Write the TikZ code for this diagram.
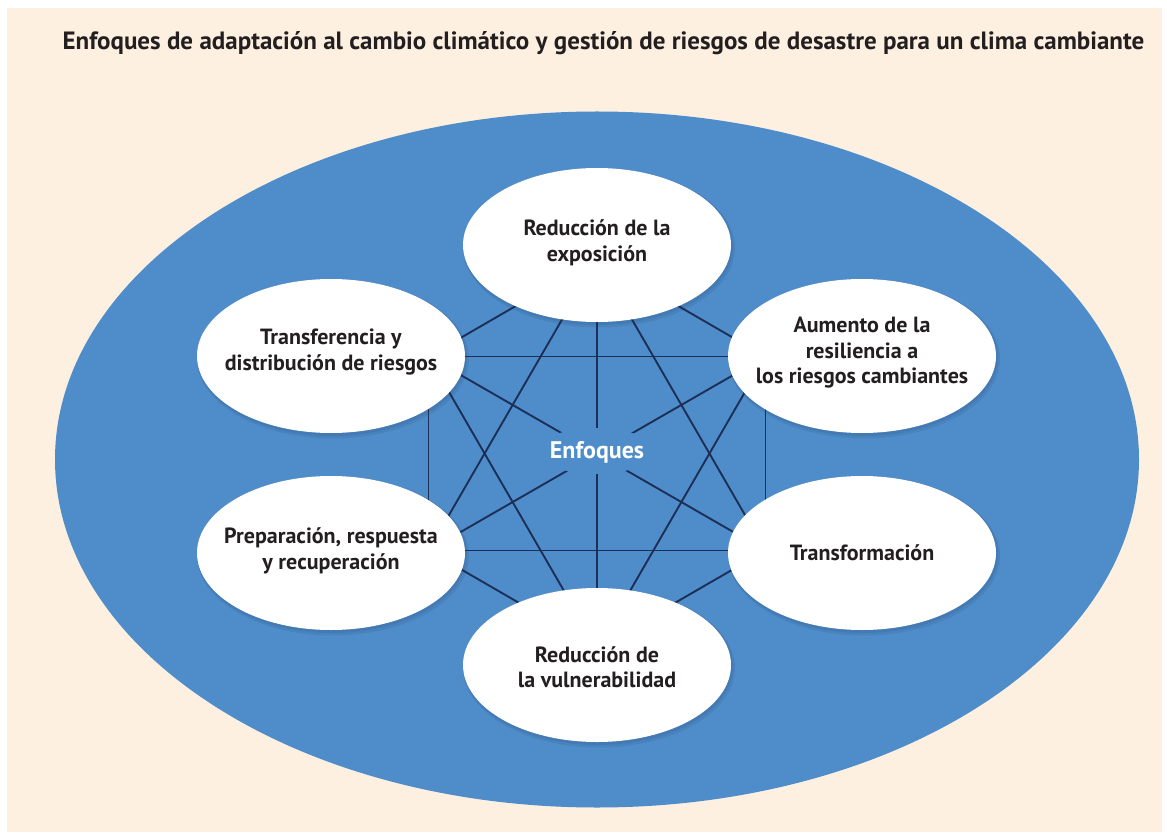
\documentclass[tikz,border=0pt]{standalone}
\usepackage{fontspec}
\setmainfont{PT Sans}
\usetikzlibrary{shapes.geometric}
\definecolor{bg}{HTML}{FDF0E0}
\definecolor{blu}{HTML}{4F8DCA}
\definecolor{navy}{HTML}{1C2F57}
\definecolor{ink}{HTML}{231F20}
\begin{document}
\begin{tikzpicture}[x=1pt,y=-1pt,
  oval/.style={ellipse, fill=white, minimum width=268pt, minimum height=154pt, inner sep=0pt, outer sep=0pt},
  ovalshade/.style={ellipse, fill=navy, opacity=0.10, minimum width=272pt, minimum height=159pt, inner sep=0pt},
  ovaltext/.style={align=center, text=ink, inner sep=0pt, font=\fontsize{22}{25.5}\selectfont\bfseries},
  link/.style={draw=navy, line width=1.9pt},
  hub/.style={ellipse, fill=blu, minimum width=116pt, minimum height=46pt, inner sep=0pt},
  hubtext/.style={text=white, inner sep=0pt, font=\fontsize{24}{28}\selectfont\bfseries},
  titletext/.style={text=ink, inner sep=0pt, font=\fontsize{25}{30}\selectfont\bfseries}
]
\useasboundingbox (0,0) rectangle (1167,834);
\fill[white] (0,0) rectangle (1167,834);
\fill[bg] (7,8) rectangle (1162,832);

\node[titletext, anchor=base] (title) at (603.5,50) {Enfoques de adaptación al cambio climático y gestión de riesgos de desastre para un clima cambiante};

% outer ellipse
\fill[blu] (597,459.5) ellipse [x radius=542, y radius=348];

% hexagon vertices
\coordinate (v1) at (597,259);
\coordinate (v2) at (765.5,356.5);
\coordinate (v3) at (765.5,550.5);
\coordinate (v4) at (597,648);
\coordinate (v5) at (428.5,550.5);
\coordinate (v6) at (428.5,356.5);

\foreach \a/\b in {v1/v2,v1/v3,v1/v4,v1/v5,v1/v6,v2/v3,v2/v4,v2/v5,v2/v6,v3/v4,v3/v5,v3/v6,v4/v5,v4/v6,v5/v6}
  \draw[link] (\a) -- (\b);

% centre label
\node[hub] (hubbg) at (596,451) {};
\node[hubtext] (hubt) at (597,452) {Enfoques};

% shadows
\foreach \p in {(599,248),(333,359),(864,359),(333,556),(864,556),(599,668)}
  \node[ovalshade] at \p {};
\foreach \p in {(598,246.5),(332,357.5),(863,357.5),(332,554.5),(863,554.5),(598,666.5)}
  \node[ovalshade, minimum width=270pt, minimum height=157pt] at \p {};

% ellipses
\node[oval] (top) at (597,245) {};
\node[oval] (tl) at (331,356) {};
\node[oval] (tr) at (862,356) {};
\node[oval] (bl) at (331,553) {};
\node[oval] (br) at (862,553) {};
\node[oval] (bot) at (597,665) {};

\node[ovaltext] (topt) at (597,243) {Reducción de la\\exposición};
\node[ovaltext] (tlt) at (331,352) {Transferencia y\\distribución de riesgos};
\node[ovaltext] (trt) at (862,353) {Aumento de la\\resiliencia a\\los riesgos cambiantes};
\node[ovaltext] (blt) at (331,551) {Preparación, respuesta\\y recuperación};
\node[ovaltext] (brt) at (862,553) {Transformación};
\node[ovaltext] (bott) at (597,667) {Reducción de\\la vulnerabilidad};
\end{tikzpicture}
\end{document}
